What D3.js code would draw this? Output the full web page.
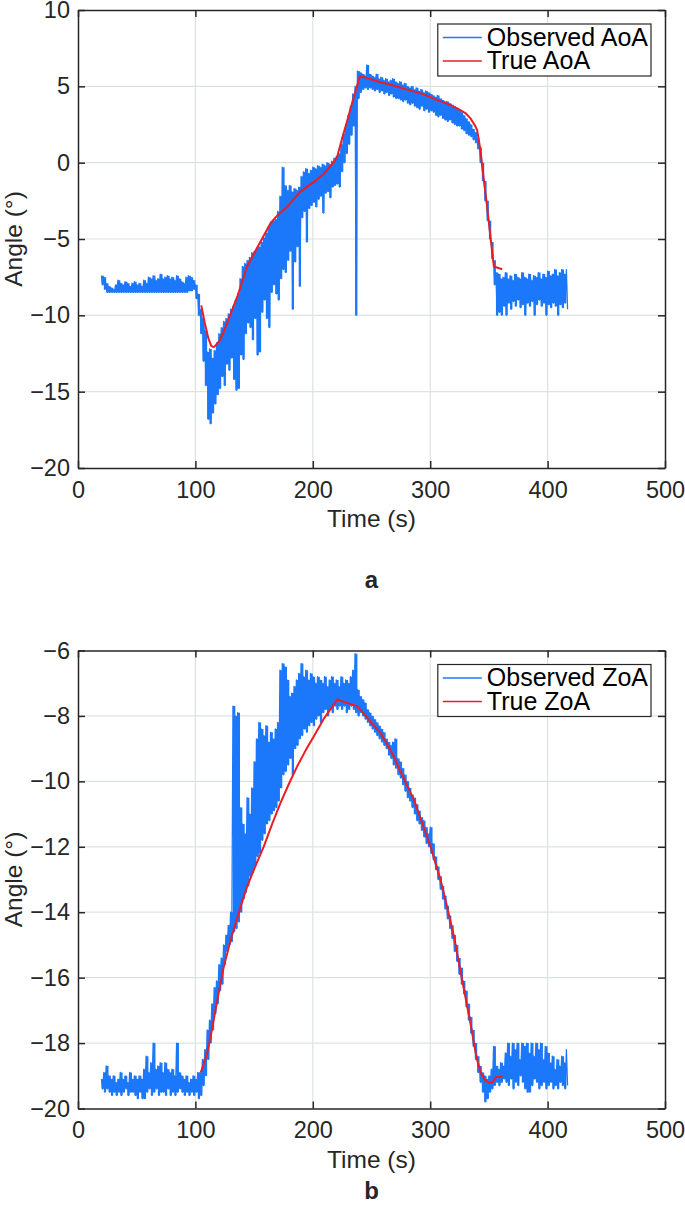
<!DOCTYPE html>
<meta charset="utf-8">
<script src="https://d3js.org/d3.v7.min.js"></script>
<style>
body { margin: 0; background: #fff; }
svg { display: block; font-family: "Liberation Sans", Arial, sans-serif; }
.grid line { stroke: #dbe3e0; stroke-width: 1.2; }
.axis path, .axis line { stroke: #262626; stroke-width: 1.5; }
.axis text { fill: #262626; font-size: 23.5px; }
.label { fill: #262626; font-size: 24.5px; }
</style>
<body>
<script>

// observed signal, read as upper/lower envelope every 2 s (t = 20 ... 416)
var obsTime = d3.range(20, 418, 2);

var aoaHi = [
  -7.4,-7.5,-7.9,-8.1,-8.2,-8.3,-8.0,-7.7,-7.9,-8.0,
  -7.8,-7.9,-8.1,-7.9,-7.8,-8.0,-7.9,-8.1,-7.7,-7.9,
  -7.5,-7.6,-7.4,-7.7,-7.6,-7.3,-7.6,-7.5,-7.4,-7.6,
  -7.5,-7.7,-7.4,-7.6,-7.8,-7.9,-7.5,-7.4,-7.5,-7.7,
  -8.0,-8.6,-9.6,-10.2,-11.0,-12.4,-12.2,-12.8,-12.3,-11.8,
  -11.2,-10.8,-10.4,-10.2,-9.9,-9.6,-9.4,-9.0,-8.6,-7.6,
  -6.8,-6.6,-6.4,-6.2,-5.9,-5.8,-5.6,-5.5,-5.2,-4.9,
  -4.6,-4.2,-3.9,-3.8,-3.7,-3.2,-2.2,-0.3,-1.5,-1.8,
  -1.5,-1.9,-1.7,-1.8,-1.6,-0.9,-0.6,-0.4,-0.7,-0.5,
  -0.3,-0.4,-0.2,-0.3,-0.1,-0.2,0.0,-0.1,0.1,0.3,
  0.4,0.6,1.2,1.9,2.5,3.1,3.7,4.5,5.0,6.0,
  5.9,5.8,5.7,6.4,5.8,5.7,5.6,5.8,5.5,5.6,
  5.4,5.5,5.3,5.4,5.5,5.3,5.2,5.3,5.1,5.2,
  5.0,4.9,5.0,4.8,4.9,4.7,4.8,4.6,4.7,4.6,
  4.5,4.4,4.3,4.4,4.2,4.1,4.0,4.0,3.9,3.8,
  3.7,3.6,3.5,3.3,3.1,2.9,2.7,2.5,2.2,2.0,
  1.6,1.0,0.0,-1.2,-2.5,-3.8,-5.2,-6.4,-7.2,-7.3,
  -7.6,-7.5,-7.2,-7.6,-7.4,-7.7,-7.3,-7.5,-7.6,-7.2,
  -7.5,-7.6,-7.3,-7.7,-7.4,-7.5,-7.2,-7.6,-7.3,-7.5,
  -7.1,-7.4,-7.3,-7.0,-7.4,-7.2,-7.0,-7.3,-7.0
];
var aoaLo = [
  -8.0,-8.3,-8.5,-8.5,-8.5,-8.5,-8.5,-8.5,-8.5,-8.5,
  -8.5,-8.5,-8.5,-8.5,-8.5,-8.5,-8.5,-8.5,-8.5,-8.5,
  -8.5,-8.5,-8.5,-8.5,-8.5,-8.5,-8.5,-8.5,-8.5,-8.5,
  -8.5,-8.5,-8.5,-8.5,-8.5,-8.5,-8.5,-8.4,-8.4,-8.3,
  -8.9,-10.0,-11.2,-13.0,-14.6,-16.8,-17.1,-16.4,-15.8,-15.2,
  -14.8,-14.0,-14.6,-13.2,-13.6,-12.8,-14.2,-14.9,-14.8,-12.6,
  -12.9,-11.2,-10.5,-10.8,-11.6,-10.2,-12.6,-12.4,-9.8,-9.0,
  -10.2,-10.8,-8.5,-8.0,-8.6,-9.0,-7.6,-7.0,-7.2,-6.4,
  -5.8,-9.6,-6.5,-5.5,-8.1,-3.6,-3.2,-5.2,-3.0,-2.8,
  -2.6,-2.9,-2.4,-2.2,-3.3,-2.0,-1.9,-2.3,-1.6,-1.5,
  -1.4,-1.6,-0.6,0.0,0.6,1.2,1.8,2.4,-10.0,4.2,
  4.6,4.8,4.9,4.8,4.9,4.8,4.7,4.8,4.6,4.7,
  4.5,4.6,4.4,4.5,4.3,4.2,4.2,4.1,4.0,4.1,
  3.9,3.8,3.9,3.7,3.6,3.5,3.7,3.4,3.5,3.3,
  3.4,3.3,3.1,3.0,3.1,2.9,2.8,2.7,2.8,2.6,
  2.5,2.4,2.4,2.2,2.1,1.9,1.8,1.7,1.5,1.3,
  0.9,0.0,-1.2,-2.5,-3.8,-5.0,-6.3,-8.0,-10.0,-9.8,
  -10.0,-9.4,-10.0,-9.2,-9.6,-9.1,-9.4,-9.0,-9.5,-9.3,
  -10.0,-9.2,-9.4,-9.1,-10.0,-9.3,-9.0,-9.4,-9.2,-10.0,
  -9.3,-9.5,-9.2,-9.4,-10.0,-9.3,-9.5,-9.2,-9.6
];
var aoaTrueTime = [105,108,111,113.5,115.7,118,121,124,130,136,144,150,157,164,170,
  178,189.5,201,209.5,218,220.8,225,229.3,234.9,240.2,246,256,264,272,282,
  292,300,306,315,323,330,334.3,338,340,342.8,345.5,348.5,351.4,354.2,361.3];
var aoaTrue = [-9.35,-10.5,-11.5,-12.0,-12.08,-11.9,-11.6,-11.1,-9.9,-8.7,-6.8,-5.95,-4.95,-3.97,-3.44,
  -2.9,-1.9,-1.26,-0.71,0.05,0.4,1.6,2.75,4.3,5.67,5.55,5.3,5.15,4.97,4.75,
  4.54,4.3,4.1,3.85,3.55,3.25,2.9,2.45,2.13,0.82,-1.0,-2.9,-4.9,-6.8,-6.98];

var zoaHi = [
  -19.1,-18.9,-18.7,-19.0,-19.1,-19.0,-19.2,-19.1,-18.9,-19.1,
  -19.0,-19.2,-18.9,-19.1,-19.0,-19.1,-19.0,-19.1,-18.8,-18.4,
  -18.9,-18.6,-18.0,-18.8,-18.7,-18.6,-18.9,-18.6,-18.8,-18.9,
  -18.8,-19.0,-18.0,-18.9,-19.0,-19.1,-19.0,-19.2,-19.1,-19.0,
  -19.1,-18.9,-18.9,-18.5,-18.2,-17.6,-17.3,-16.8,-16.3,-16.1,
  -15.6,-15.4,-15.0,-14.7,-14.4,-14.0,-7.7,-8.0,-7.9,-10.8,
  -11.3,-11.6,-10.5,-11.0,-10.2,-9.4,-8.7,-8.2,-8.4,-8.6,
  -8.3,-8.8,-8.5,-8.7,-8.4,-8.2,-6.6,-6.4,-6.5,-6.9,
  -7.4,-7.3,-7.1,-6.9,-6.7,-6.4,-6.8,-6.6,-6.9,-6.7,
  -6.8,-7.0,-6.8,-6.9,-7.0,-6.8,-7.1,-6.9,-6.8,-7.0,
  -6.9,-7.1,-6.8,-7.0,-6.9,-7.0,-6.8,-6.6,-6.1,-7.2,
  -7.4,-7.5,-7.6,-7.8,-7.9,-8.0,-8.1,-8.2,-8.3,-8.4,
  -8.5,-8.7,-8.8,-8.9,-8.8,-8.7,-9.3,-9.4,-9.6,-9.8,
  -10.0,-10.2,-10.4,-10.5,-10.7,-10.9,-11.1,-11.2,-11.4,-11.6,
  -11.4,-11.9,-12.3,-12.6,-12.9,-13.2,-13.5,-13.8,-14.1,-14.4,
  -14.7,-15.0,-15.4,-15.7,-16.1,-16.4,-16.8,-17.2,-17.6,-18.0,
  -18.4,-18.7,-18.9,-19.0,-19.1,-19.0,-18.8,-18.1,-18.7,-18.8,
  -18.6,-18.7,-18.3,-18.0,-18.4,-18.0,-18.2,-18.0,-18.5,-18.0,
  -18.1,-18.0,-18.3,-18.0,-18.4,-18.0,-18.2,-18.0,-18.5,-18.1,
  -18.3,-18.6,-18.4,-18.8,-18.5,-18.7,-18.4,-18.6,-18.2
];
var zoaLo = [
  -19.4,-19.5,-19.4,-19.5,-19.6,-19.5,-19.6,-19.5,-19.6,-19.5,
  -19.4,-19.6,-19.5,-19.5,-19.6,-19.7,-19.5,-19.7,-19.7,-19.5,
  -19.4,-19.6,-19.5,-19.4,-19.6,-19.5,-19.5,-19.6,-19.4,-19.6,
  -19.5,-19.6,-19.5,-19.4,-19.5,-19.6,-19.5,-19.6,-19.5,-19.6,
  -19.5,-19.7,-19.6,-19.3,-19.0,-18.5,-18.0,-17.6,-17.1,-16.8,
  -16.4,-16.2,-15.6,-15.2,-15.0,-14.9,-14.6,-14.5,-14.3,-14.0,
  -13.6,-13.4,-13.2,-12.9,-12.8,-12.6,-12.3,-12.2,-11.8,-11.6,
  -11.3,-11.2,-11.0,-10.9,-10.8,-10.6,-10.2,-9.8,-9.7,-9.5,
  -9.3,-9.8,-9.0,-8.9,-8.7,-8.6,-8.4,-8.5,-8.3,-8.2,
  -8.3,-8.1,-8.0,-8.2,-7.9,-7.8,-8.0,-7.8,-7.9,-7.7,
  -7.8,-7.7,-7.8,-7.7,-7.9,-7.8,-7.7,-7.8,-7.9,-8.0,
  -7.9,-8.0,-8.1,-8.2,-8.3,-8.4,-8.5,-8.6,-8.7,-8.8,
  -8.9,-9.0,-9.2,-9.3,-9.5,-9.6,-9.8,-9.9,-10.1,-10.3,
  -10.5,-10.6,-10.8,-11.0,-11.2,-11.3,-11.5,-11.7,-11.9,-12.0,
  -12.2,-12.4,-12.7,-13.0,-13.3,-13.6,-13.9,-14.2,-14.5,-14.8,
  -15.2,-15.5,-15.9,-16.2,-16.5,-16.9,-17.3,-17.7,-18.1,-18.5,
  -18.9,-19.2,-19.5,-19.8,-19.7,-19.5,-19.4,-19.3,-19.2,-19.3,
  -19.2,-19.1,-19.2,-19.3,-19.1,-19.4,-19.2,-19.3,-19.0,-19.2,
  -19.4,-19.5,-19.5,-19.3,-19.1,-19.2,-19.4,-19.3,-19.2,-19.4,
  -19.3,-19.2,-19.4,-19.3,-19.4,-19.2,-19.3,-19.4,-19.3
];
var zoaTrueTime = [104.5,107,110,113,118.6,124,130,137,144,151,158.3,165.4,172.5,179.6,186.7,
  193.8,200.9,210,220.8,229,237.8,245,251,257.7,263,269,274.7,280,286,293,
  300.3,304.5,308.8,314.5,320.3,328.3,333.8,339.4,343,346.8,350.5,353,356,361.6];
var zoaTrue = [-18.9,-18.65,-18.3,-17.8,-16.7,-15.7,-14.85,-14.0,-13.22,-12.6,-11.99,-11.3,-10.66,-10.08,-9.54,
  -9.06,-8.62,-8.05,-7.5,-7.6,-7.7,-8.0,-8.25,-8.52,-8.85,-9.24,-9.7,-10.1,-10.56,-11.25,
  -11.99,-12.5,-13.0,-13.85,-14.75,-16.28,-17.3,-18.43,-18.9,-19.14,-19.22,-19.2,-19.04,-19.04];

var xTicks = [0, 100, 200, 300, 400, 500];
var aoaTicks = [-20, -15, -10, -5, 0, 5, 10];
var zoaTicks = [-20, -18, -16, -14, -12, -10, -8, -6];

var blue = "#1c78fb", red = "#ea1d25";
var width = 685, height = 1206;

var svg = d3.select("body").append("svg")
    .attr("width", width)
    .attr("height", height);

svg.append("rect").attr("width", width).attr("height", height).attr("fill", "#fff");

function drawPanel(p) {
    var x = d3.scaleLinear().domain([0, 500]).range([78, 665]);
    var y = d3.scaleLinear().domain([p.yTicks[0], p.yTicks[p.yTicks.length - 1]]).range([p.bottom, p.top]);
    var g = svg.append("g");

    // grid
    var grid = g.append("g").attr("class", "grid");
    grid.selectAll(".gx").data(xTicks.slice(1, -1)).join("line")
        .attr("x1", d => x(d)).attr("x2", d => x(d))
        .attr("y1", p.top).attr("y2", p.bottom);
    grid.selectAll(".gy").data(p.yTicks.slice(1, -1)).join("line")
        .attr("x1", x.range()[0]).attr("x2", x.range()[1])
        .attr("y1", d => y(d)).attr("y2", d => y(d));

    // observed: band between envelopes, plus a zigzag for the noisy texture
    var band = obsTime.map((t, i) => [t, p.lo[i], p.hi[i]]);
    g.append("path").datum(band)
        .attr("d", d3.area().curve(d3.curveStepAfter)
            .x(d => x(d[0])).y0(d => y(d[1])).y1(d => y(d[2])))
        .attr("fill", blue);

    var pts = [];
    obsTime.forEach(function(t, i) {
        pts.push([t, p.hi[i]]);
        pts.push([t + 1, p.lo[i]]);
    });
    var line = d3.line().x(d => x(d[0])).y(d => y(d[1]));
    g.append("path").datum(pts)
        .attr("d", line)
        .attr("fill", "none")
        .attr("stroke", blue)
        .attr("stroke-width", 1.3)
        .attr("stroke-linejoin", "round");

    // true curve
    var tr = p.trueTime.map((t, i) => [t, p.trueVal[i]]);
    g.append("path").datum(tr)
        .attr("d", line)
        .attr("fill", "none")
        .attr("stroke", red)
        .attr("stroke-width", 2)
        .attr("stroke-linejoin", "round");

    // axes (box with inward ticks)
    g.append("g").attr("class", "axis")
        .attr("transform", "translate(0," + p.bottom + ")")
        .call(d3.axisBottom(x).tickValues(xTicks).tickSize(-7).tickSizeOuter(0).tickPadding(13));
    g.append("g").attr("class", "axis")
        .attr("transform", "translate(0," + p.top + ")")
        .call(d3.axisTop(x).tickValues(xTicks).tickSize(-7).tickSizeOuter(0).tickFormat(""));
    g.append("g").attr("class", "axis")
        .attr("transform", "translate(" + x.range()[0] + ",0)")
        .call(d3.axisLeft(y).tickValues(p.yTicks).tickSize(-7).tickSizeOuter(0).tickPadding(8));
    g.append("g").attr("class", "axis")
        .attr("transform", "translate(" + x.range()[1] + ",0)")
        .call(d3.axisRight(y).tickValues(p.yTicks).tickSize(-7).tickSizeOuter(0).tickFormat(""));

    // axis titles
    g.append("text").attr("class", "label")
        .attr("x", (x.range()[0] + x.range()[1]) / 2)
        .attr("y", p.bottom + 59)
        .attr("text-anchor", "middle")
        .text("Time (s)");
    g.append("text").attr("class", "label")
        .attr("transform", "translate(22," + (p.top + p.bottom) / 2 + ") rotate(-90)")
        .attr("text-anchor", "middle")
        .text("Angle (°)");

    // legend
    var boxRight = x.range()[1] - 14, boxTop = p.top + 14;
    var lg = g.append("g");
    var box = lg.append("rect")
        .attr("fill", "#fff")
        .attr("stroke", "#262626")
        .attr("stroke-width", 1.2);
    var labels = lg.selectAll("text").data(p.names).join("text")
        .attr("y", (d, i) => boxTop + 21.5 + i * 23.5)
        .attr("font-size", 25)
        .attr("fill", "#000")
        .text(d => d);
    var tw = d3.max(labels.nodes(), n => n.getComputedTextLength());
    var tx = boxRight - tw - 3;
    labels.attr("x", tx);
    lg.selectAll("line").data([blue, red]).join("line")
        .attr("x1", tx - 44).attr("x2", tx - 5)
        .attr("y1", (d, i) => boxTop + 13.5 + i * 23.5)
        .attr("y2", (d, i) => boxTop + 13.5 + i * 23.5)
        .attr("stroke", d => d)
        .attr("stroke-width", 1.5);
    box.attr("x", tx - 49).attr("y", boxTop)
        .attr("width", boxRight - (tx - 49)).attr("height", 52);

    // panel letter
    g.append("text")
        .attr("x", (x.range()[0] + x.range()[1]) / 2)
        .attr("y", p.letterY)
        .attr("text-anchor", "middle")
        .attr("font-size", 24)
        .attr("font-weight", "bold")
        .attr("fill", "#262626")
        .text(p.letter);
}

drawPanel({
    top: 10, bottom: 468, yTicks: aoaTicks,
    hi: aoaHi, lo: aoaLo, trueTime: aoaTrueTime, trueVal: aoaTrue,
    names: ["Observed AoA", "True AoA"], letter: "a", letterY: 588
});
drawPanel({
    top: 650.5, bottom: 1108.5, yTicks: zoaTicks,
    hi: zoaHi, lo: zoaLo, trueTime: zoaTrueTime, trueVal: zoaTrue,
    names: ["Observed ZoA", "True ZoA"], letter: "b", letterY: 1199
});

</script>
</body>
